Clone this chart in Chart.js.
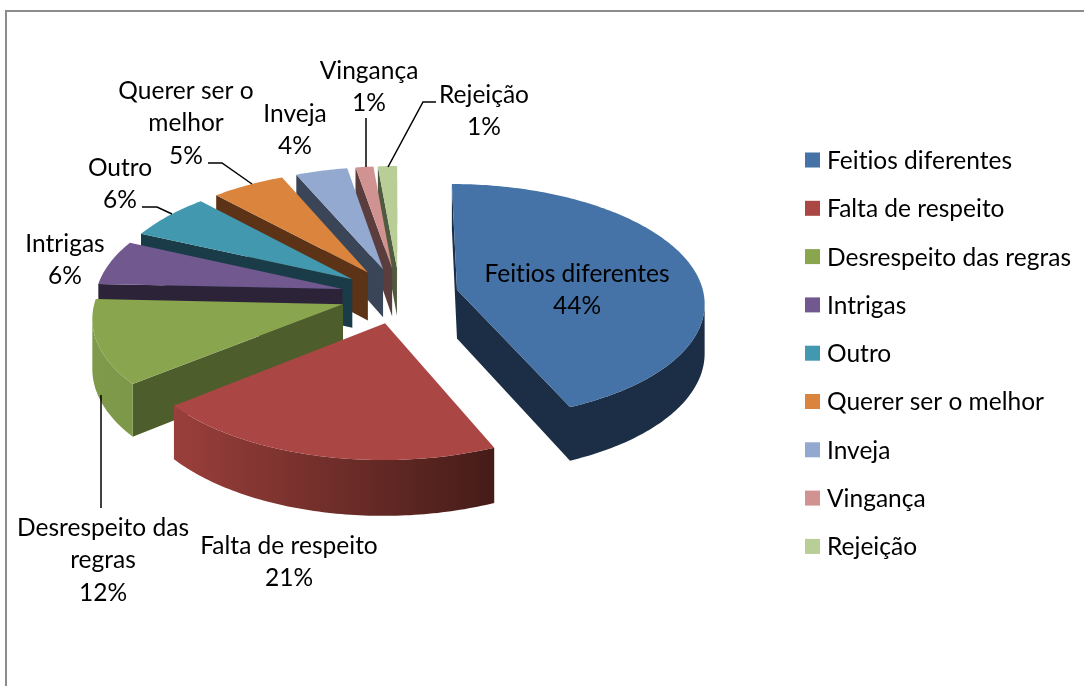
<!DOCTYPE html>
<html>
<head>
<meta charset="utf-8">
<title>Feitios diferentes</title>
<script src="https://cdn.jsdelivr.net/npm/chart.js"></script>
<style>
  html, body { margin: 0; padding: 0; background: #fff; overflow: hidden; }
  #box { position: relative; width: 1084px; height: 686px; }
</style>
</head>
<body>
<div id="box"><canvas id="pie" width="1084" height="686"></canvas></div>
<script>
// data: printed labels are whole numbers, the slice angles give the decimals
const categories = ["Feitios diferentes", "Falta de respeito", "Desrespeito das regras", "Intrigas", "Outro", "Querer ser o melhor", "Inveja", "Vingança", "Rejeição"];
const percents = [43.5, 20.7, 11.5, 6.1, 6.3, 5.4, 3.8, 1.3, 1.4];

// colours: top face, radial wall, outer wall left and right
const topColors = ["#4572a7", "#aa4643", "#89a54e", "#71588f", "#4198af", "#db843d", "#93a9cf", "#d19392", "#b9cd96"];
const wallColors = ["#1b2e45", "#451c18", "#4d5e2c", "#2d2339", "#1a3c48", "#5c3317", "#3a4558", "#5a3d3c", "#4f5a3e"];
const outerLeft = ["#1b2e45", "#9a3f3b", "#7f9a4a", "#2d2339", "#1a3c48", "#5c3317", "#3a4558", "#5a3d3c", "#4f5a3e"];
const outerRight = ["#1b2e45", "#451c18", "#6f8a42", "#2d2339", "#1a3c48", "#5c3317", "#3a4558", "#5a3d3c", "#4f5a3e"];

// data labels as in the picture: lines of text, centre x, middle y of first line
const labelLines = [
  ["Feitios diferentes", "44%"],
  ["Falta de respeito", "21%"],
  ["Desrespeito das", "regras", "12%"],
  ["Intrigas", "6%"],
  ["Outro", "6%"],
  ["Querer ser o", "melhor", "5%"],
  ["Inveja", "4%"],
  ["Vingança", "1%"],
  ["Rejeição", "1%"]
];
const labelX = [577, 289, 103, 65, 120, 186, 295, 369, 484];
const labelY = [274, 546, 528, 244, 168, 91, 114, 71, 95];
const leaders = [
  [[101, 395], [101, 508]],
  [[142, 207], [157, 207], [172, 214]],
  [[208, 163], [222, 163], [252, 184]],
  [[366, 118], [366, 167]],
  [[436, 102], [423, 102], [388, 167]]
];

const FONT = '24.5px Lato, "Open Sans", sans-serif';
const LINE_HEIGHT = 32.3;
const SQUASH = 0.475;     // tilt of the pie
const PERSPECTIVE = 0.0004;
const DEPTH = 49;

// tilts a point of the flat pie into the picture, h is the distance below the top face
function project(chartEl, px, py, h) {
    const w = 1 / (1 - PERSPECTIVE * py);
    return [chartEl.x + px * w, chartEl.y + (SQUASH * py + h) * w];
}

function fillPoly(ctx, points, color) {
    ctx.fillStyle = color;
    ctx.beginPath();
    points.forEach((p, j) => j ? ctx.lineTo(p[0], p[1]) : ctx.moveTo(p[0], p[1]));
    ctx.closePath();
    ctx.fill();
}

function drawSlice(ctx, el, i) {
    const mid = (el.startAngle + el.endAngle) / 2;
    const ox = Math.cos(mid) * el.options.offset;
    const oy = Math.sin(mid) * el.options.offset;
    const steps = Math.max(2, Math.ceil((el.endAngle - el.startAngle) * 60));

    // flat outline: apex, then along the arc
    const flat = [[ox, oy]];
    for (let s = 0; s <= steps; s++) {
        const a = el.startAngle + (el.endAngle - el.startAngle) * s / steps;
        flat.push([ox + Math.cos(a) * el.outerRadius, oy + Math.sin(a) * el.outerRadius]);
    }
    const top = flat.map(p => project(el, p[0], p[1], 0));
    const bottom = flat.map(p => project(el, p[0], p[1], DEPTH));
    const n = top.length;

    // only walls that face the viewer: the outline runs clockwise, so those go right to left
    [[0, 1], [n - 1, 0]].forEach(([a, b]) => {
        if (top[b][0] < top[a][0]) fillPoly(ctx, [top[a], top[b], bottom[b], bottom[a]], wallColors[i]);
    });

    const xs = top.map(p => p[0]);
    const grad = ctx.createLinearGradient(Math.min(...xs), 0, Math.max(...xs), 0);
    grad.addColorStop(0, outerLeft[i]);
    grad.addColorStop(1, outerRight[i]);
    const runTop = [];
    const runBottom = [];
    for (let j = 1; j < n - 1; j++) {
        if (top[j + 1][0] < top[j][0]) {
            if (!runTop.length) { runTop.push(top[j]); runBottom.push(bottom[j]); }
            runTop.push(top[j + 1]);
            runBottom.push(bottom[j + 1]);
        }
    }
    if (runTop.length) fillPoly(ctx, runTop.concat(runBottom.reverse()), grad);

    fillPoly(ctx, top, el.options.backgroundColor);
}

const pie3d = {
    id: "pie3d",
    beforeDraw(chart) {
        // grey frame of the picture, right and bottom sides are cut off
        const ctx = chart.ctx;
        ctx.save();
        ctx.fillStyle = "#fff";
        ctx.fillRect(0, 0, chart.width, chart.height);
        ctx.strokeStyle = "#8c8c8c";
        ctx.lineWidth = 2;
        ctx.strokeRect(6, 11, 1300, 1000);
        ctx.restore();
    },
    beforeDatasetsDraw(chart) {
        // rear slices first, using the arcs the library laid out
        const arcs = chart.getDatasetMeta(0).data;
        const order = arcs.map((el, i) => i).sort((a, b) =>
            Math.sin((arcs[a].startAngle + arcs[a].endAngle) / 2) - Math.sin((arcs[b].startAngle + arcs[b].endAngle) / 2));
        const ctx = chart.ctx;
        ctx.save();
        order.forEach(i => drawSlice(ctx, arcs[i], i));
        ctx.restore();
        return false; // flat arcs are not wanted
    },
    afterDraw(chart) {
        const ctx = chart.ctx;
        ctx.save();

        // leader lines
        ctx.strokeStyle = "#000";
        ctx.lineWidth = 1.5;
        leaders.forEach(line => {
            ctx.beginPath();
            line.forEach((p, j) => j ? ctx.lineTo(p[0], p[1]) : ctx.moveTo(p[0], p[1]));
            ctx.stroke();
        });

        // data labels, the tiny spacing switches off the Lato "ti" ligature
        ctx.font = FONT;
        ctx.letterSpacing = "0.01px";
        ctx.fillStyle = "#000";
        ctx.textAlign = "center";
        ctx.textBaseline = "middle";
        labelLines.forEach((lines, i) => {
            lines.forEach((text, j) => ctx.fillText(text, labelX[i], labelY[i] + j * LINE_HEIGHT));
        });

        // legend
        ctx.textAlign = "left";
        categories.forEach((name, i) => {
            const y = 160 + i * 48.3;
            ctx.fillStyle = topColors[i];
            ctx.fillRect(805, y - 7.5, 15, 15);
            ctx.fillStyle = "#000";
            ctx.fillText(name, 827, y + 1);
        });
        ctx.restore();
    }
};

new Chart(document.getElementById("pie"), {
    type: "pie",
    data: {
        labels: categories,
        datasets: [{
            data: percents,
            backgroundColor: topColors,
            borderWidth: 0,
            offset: 59
        }]
    },
    options: {
        responsive: false,
        animation: false,
        radius: 247,
        layout: { padding: { left: 0, top: 0, right: 285, bottom: 95 } },
        plugins: {
            legend: { display: false },
            tooltip: { enabled: false }
        }
    },
    plugins: [pie3d]
});
</script>
</body>
</html>
